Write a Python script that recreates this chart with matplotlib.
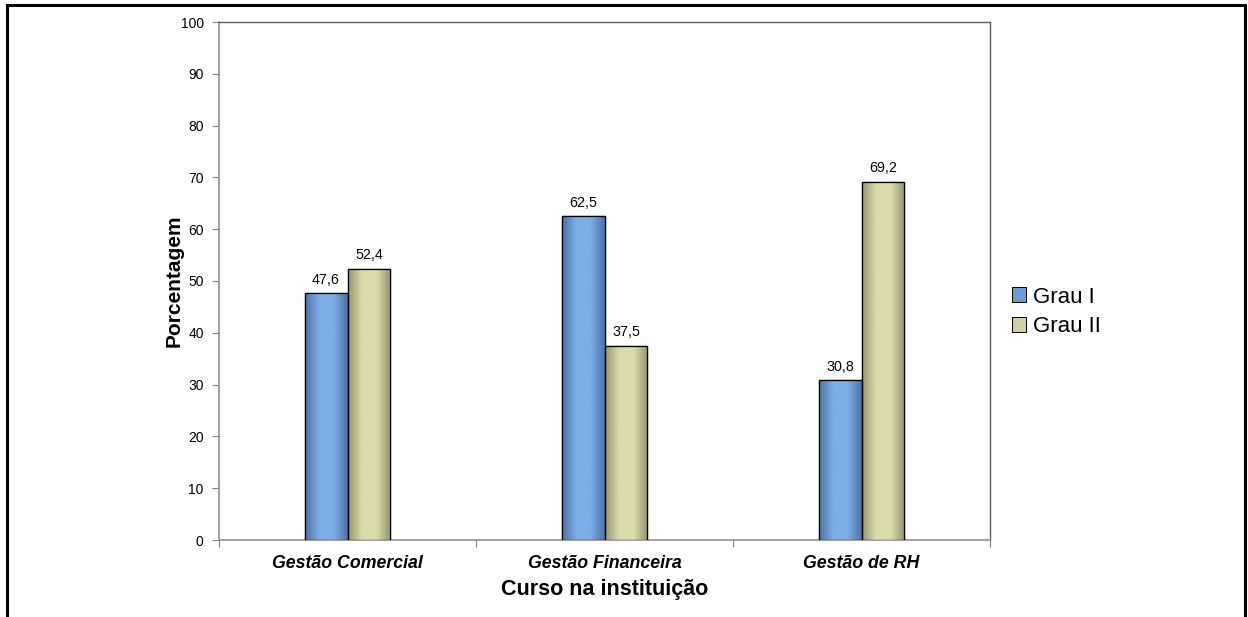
import matplotlib
matplotlib.use("Agg")
import matplotlib.pyplot as plt
import numpy as np
from matplotlib.patches import Rectangle, Patch
from matplotlib.colors import LinearSegmentedColormap

plt.rcParams['font.family'] = ['Liberation Sans', 'DejaVu Sans']

categories = ["Gestão Comercial", "Gestão Financeira", "Gestão de RH"]
grau1 = [47.6, 62.5, 30.8]
grau2 = [52.4, 37.5, 69.2]
labels1 = ["47,6", "62,5", "30,8"]
labels2 = ["52,4", "37,5", "69,2"]
series_names = ["Grau I", "Grau II"]

fig = plt.figure(figsize=(12.48, 6.17), dpi=100)
# outer black border
border = Rectangle((7/1248, -0.05), (1245-7)/1248, 1 - 5/617 + 0.05,
                   transform=fig.transFigure, fill=False, edgecolor='black',
                   linewidth=2.2, clip_on=False)
fig.patches.append(border)

L, R, T, B = 219, 990, 22, 540
ax = fig.add_axes([L/1248, 1 - B/617, (R-L)/1248, (B-T)/617])

x = np.arange(len(categories))
w = 0.167

def grad_cmap(edge, mid):
    return LinearSegmentedColormap.from_list('g', [edge, mid, mid, edge], N=256)

blue_cmap = grad_cmap('#4a72a8', '#7eaee6')
tan_cmap = grad_cmap('#95956c', '#dcdcab')

bars1 = ax.bar(x - w/2, grau1, w, color='#6c9bd6', edgecolor='black', linewidth=0.9, label=series_names[0], zorder=3)
bars2 = ax.bar(x + w/2, grau2, w, color='#c8c897', edgecolor='black', linewidth=0.9, label=series_names[1], zorder=3)

for bars, cmap in ((bars1, blue_cmap), (bars2, tan_cmap)):
    for b in bars:
        x0, y0 = b.get_x(), b.get_y()
        bw, bh = b.get_width(), b.get_height()
        im = ax.imshow(np.linspace(0, 1, 256).reshape(1, -1), cmap=cmap, aspect='auto',
                       extent=[x0, x0 + bw, y0, y0 + bh], zorder=3.5, interpolation='bicubic')
        im.set_clip_path(b)
        ax.add_patch(Rectangle((x0, y0), bw, bh, fill=False, edgecolor='black', linewidth=0.9, zorder=4))

for bars, labs in ((bars1, labels1), (bars2, labels2)):
    for b, lab in zip(bars, labs):
        ax.text(b.get_x() + b.get_width()/2, b.get_height() + 1.3, lab,
                ha='center', va='bottom', fontsize=10.3, zorder=5)

ax.set_xlim(-0.5, len(categories) - 0.5)
ax.set_ylim(0, 100)
ax.set_yticks(np.arange(0, 101, 10))
ax.tick_params(axis='y', labelsize=10, length=5, color='#808080', pad=6)
ax.set_xticks(np.arange(-0.5, len(categories), 1.0))
ax.set_xticklabels([])
ax.tick_params(axis='x', length=5, color='#808080', direction='out')
ax.set_xticks(x, minor=True)
ax.set_xticklabels(categories, minor=True, fontsize=12.8, fontweight='bold', fontstyle='italic')
ax.tick_params(axis='x', which='minor', length=0, pad=11)

for s in ('top', 'right'):
    ax.spines[s].set_color('#606060')
    ax.spines[s].set_linewidth(1.0)
for s in ('left', 'bottom'):
    ax.spines[s].set_color('#909090')
    ax.spines[s].set_linewidth(1.2)

ax.set_ylabel("Porcentagem", fontsize=15, fontweight='bold', labelpad=-2)
ax.set_xlabel("Curso na instituição", fontsize=15.5, fontweight='bold', labelpad=5)

handles = [Patch(facecolor='#6c9bd6', edgecolor='black', linewidth=0.7),
           Patch(facecolor='#d0d0a0', edgecolor='black', linewidth=0.7)]
fig.legend(handles, series_names, loc='center left', bbox_to_anchor=(1012/1248, 1 - 312/617),
           frameon=False, fontsize=16, handlelength=0.65, handleheight=0.65,
           handletextpad=0.3, labelspacing=0.4, borderaxespad=0, borderpad=0)

fig.savefig("out.png", dpi=100)
